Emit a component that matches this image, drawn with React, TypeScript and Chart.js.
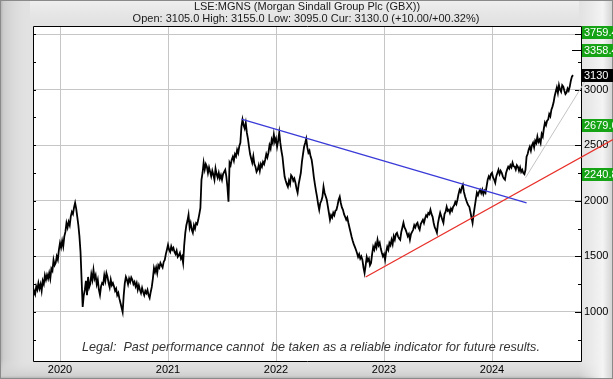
import React, { useEffect, useRef } from 'react';
import { Chart, registerables } from 'chart.js';

Chart.register(...registerables);

// ---------- text ----------
const titleText = 'LSE:MGNS (Morgan Sindall Group Plc (GBX))';
const subtitleText = 'Open: 3105.0 High: 3155.0 Low: 3095.0 Cur: 3130.0 (+10.00/+00.32%)';
const legalText = 'Legal:  Past performance cannot  be taken as a reliable indicator for future results.';

// ---------- axes ----------
const yearTicks = [2020, 2021, 2022, 2023, 2024];
const priceTicks = [1000, 1500, 2000, 2500, 3000, 3500];
const minorPriceTicks = [750, 1000, 1250, 1500, 1750, 2000, 2250, 2500, 2750, 3000, 3250, 3500];
const xMin = 2019.75;
const xMax = 2024.824;
const yMin = 559;
const yMax = 3572;

// ---------- price samples (one every 0.01 year) ----------
const sampleStep = 0.01;
const start2019 = 2019.75;
const prices2019 = [1135, 1190, 1160, 1230, 1200, 1260, 1210, 1250, 1190, 1280, 1250, 1330, 1290, 1333, 1300, 1350, 1300, 1390, 1370, 1468, 1420, 1440, 1500, 1470, 1560];
const prices2020 = [
  1620, 1580, 1640, 1590, 1680, 1720, 1800, 1760, 1810, 1780,
  1860, 1900, 1880, 1940, 1982, 1930, 1856, 1780, 1680, 1540,
  1290, 1045, 1150, 1200, 1280, 1150, 1315, 1220, 1250, 1340,
  1290, 1378, 1300, 1330, 1250, 1290, 1200, 1153, 1230, 1260,
  1250, 1330, 1280, 1350, 1315, 1260, 1220, 1290, 1240, 1260,
  1230, 1190, 1210, 1150, 1171, 1120, 1080, 1040, 1000, 1150,
  1260, 1315, 1290, 1250, 1300, 1270, 1310, 1290, 1250, 1270,
  1230, 1260, 1200, 1240, 1200, 1170, 1216, 1180, 1150, 1190,
  1170, 1198, 1150, 1126, 1180, 1225, 1300, 1396, 1360, 1400,
  1350, 1420, 1400, 1441, 1420, 1400, 1450, 1468, 1520, 1560,
];
const prices2021 = [
  1604, 1560, 1540, 1590, 1560, 1577, 1540, 1520, 1550, 1495,
  1510, 1532, 1480, 1500, 1441, 1600, 1712, 1780, 1820, 1874,
  1760, 1800, 1740, 1712, 1780, 1750, 1800, 1790, 1829, 1880,
  1937, 2189, 2250, 2342, 2280, 2330, 2306, 2250, 2300, 2261,
  2220, 2270, 2234, 2190, 2290, 2240, 2207, 2250, 2200, 2230,
  2189, 2240, 2260, 2279, 2220, 2126, 1991, 2342, 2320, 2370,
  2396, 2360, 2420, 2400, 2459, 2430, 2490, 2522, 2667, 2730,
  2680, 2650, 2700, 2613, 2560, 2486, 2420, 2380, 2342, 2400,
  2330, 2306, 2260, 2279, 2320, 2270, 2330, 2306, 2350, 2330,
  2369, 2420, 2390, 2432, 2500, 2470, 2550, 2520, 2595, 2530,
];
const prices2022 = [
  2560, 2486, 2540, 2613, 2520, 2450, 2396, 2300, 2216, 2180,
  2150, 2126, 2180, 2150, 2230, 2216, 2180, 2200, 2162, 2110,
  2072, 2150, 2200, 2252, 2350, 2420, 2486, 2520, 2558, 2480,
  2432, 2450, 2400, 2369, 2300, 2216, 2150, 2090, 2036, 1970,
  1919, 1980, 2000, 2036, 2126, 2070, 2040, 2009, 1950, 1890,
  1829, 1870, 1850, 1892, 1870, 1910, 1919, 1960, 2010, 2036,
  1980, 1940, 1919, 1880, 1856, 1830, 1850, 1802, 1760, 1720,
  1676, 1640, 1610, 1586, 1560, 1530, 1495, 1520, 1480, 1500,
  1468, 1400, 1351, 1420, 1495, 1460, 1480, 1420, 1441, 1520,
  1586, 1560, 1610, 1580, 1649, 1600, 1622, 1570, 1532, 1500,
];
const prices2023 = [
  1520, 1468, 1540, 1586, 1560, 1620, 1600, 1649, 1610, 1680,
  1650, 1700, 1712, 1680, 1660, 1649, 1720, 1760, 1802, 1760,
  1740, 1712, 1680, 1700, 1649, 1700, 1720, 1739, 1780, 1760,
  1790, 1802, 1760, 1739, 1790, 1810, 1829, 1800, 1840, 1870,
  1856, 1890, 1880, 1919, 1880, 1856, 1800, 1760, 1740, 1712,
  1800, 1850, 1892, 1860, 1830, 1802, 1880, 1900, 1946, 1910,
  1920, 1892, 1930, 1910, 1946, 1960, 1990, 1970, 2009, 2060,
  2099, 2080, 2120, 2144, 2080, 2040, 2009, 1980, 1960, 1946,
  1900, 1850, 1802, 1880, 1946, 2010, 2072, 2050, 2080, 2099,
  2070, 2100, 2060, 2090, 2072, 2130, 2189, 2220, 2200, 2240,
];
const prices2024 = [
  2252, 2210, 2190, 2162, 2220, 2250, 2279, 2240, 2270, 2252,
  2220, 2200, 2189, 2250, 2280, 2306, 2290, 2320, 2300, 2342,
  2310, 2306, 2280, 2320, 2306, 2270, 2300, 2260, 2279, 2250,
  2240, 2279, 2396, 2420, 2460, 2486, 2450, 2500, 2522, 2480,
  2540, 2520, 2577, 2530, 2550, 2520, 2600, 2577, 2650, 2703,
  2680, 2720, 2730, 2780, 2760, 2820, 2847, 2883, 2940, 2980,
  3018, 2970, 3040, 3000, 2980, 3040, 3027, 2990, 2960, 2973,
  3010, 2990, 3027, 3080, 3117, 3130,
];
const priceSegments: [number, number[]][] = [
  [start2019, prices2019],
  [2020, prices2020],
  [2021, prices2021],
  [2022, prices2022],
  [2023, prices2023],
  [2024, prices2024],
];

// ---------- trend lines [year, price] ----------
const blueTrend = [[2021.68, 2735], [2024.32, 1982]];
const redTrend = [[2022.83, 1315], [2025.12, 2550]];
const greyTrend = [[2024.31, 2207], [2024.86, 3072]];

// ---------- right-hand markers ----------
const targetLevels = [3759.4, 3358.4, 2679.6, 2240.8];
const targetTickLevel = 3358.4;
const currentPrice = 3130;

const FONT = "'Liberation Sans', Arial, sans-serif";

function buildPriceData() {
  const pts: { x: number; y: number }[] = [];
  priceSegments.forEach(([start, vals]) => {
    vals.forEach((v, i) => pts.push({ x: start + i * sampleStep, y: v }));
  });
  return pts;
}
const toPts = (arr: number[][]) => arr.map(([x, y]) => ({ x, y }));

const framePlugin = {
  id: 'frame',
  beforeDraw(chart: any) {
    const { ctx, width, height, chartArea } = chart;
    ctx.save();
    ctx.fillStyle = '#e2e2e2';
    ctx.fillRect(0, 0, width, height);
    let g = ctx.createLinearGradient(0, 0, 30, 0);
    g.addColorStop(0, '#b0b0b0');
    g.addColorStop(0.12, '#cdcdcd');
    g.addColorStop(1, 'rgba(226,226,226,0)');
    ctx.fillStyle = g;
    ctx.fillRect(0, 0, 30, height);
    g = ctx.createLinearGradient(0, height, 0, height - 20);
    g.addColorStop(0, '#a8a8a8');
    g.addColorStop(0.15, '#cfcfcf');
    g.addColorStop(1, 'rgba(226,226,226,0)');
    ctx.fillStyle = g;
    ctx.fillRect(0, height - 20, width, 20);
    g = ctx.createLinearGradient(width, 0, width - 34, 0);
    g.addColorStop(0, '#d0d0d0');
    g.addColorStop(0.3, '#f4f4f4');
    g.addColorStop(1, 'rgba(240,240,240,0)');
    ctx.fillStyle = g;
    ctx.fillRect(width - 34, 0, 34, height);
    g = ctx.createLinearGradient(0, 0, 0, 24);
    g.addColorStop(0, '#f0f0f0');
    g.addColorStop(1, 'rgba(232,232,232,0)');
    ctx.fillStyle = g;
    ctx.fillRect(30, 0, width - 64, 24);
    ctx.strokeStyle = '#8a8a8a';
    ctx.lineWidth = 1;
    ctx.strokeRect(0.5, 0.5, width - 1, height - 1);
    // plot area
    ctx.fillStyle = '#ffffff';
    ctx.fillRect(chartArea.left, chartArea.top, chartArea.right - chartArea.left, chartArea.bottom - chartArea.top);
    // titles
    ctx.fillStyle = '#1a1a1a';
    ctx.font = `11px ${FONT}`;
    ctx.textAlign = 'center';
    ctx.textBaseline = 'middle';
    ctx.fillText(titleText, 307, 7);
    ctx.fillText(subtitleText, 306, 19);
    ctx.restore();
  },
  beforeDatasetsDraw(chart: any) {
    const { ctx, chartArea, scales } = chart;
    const { left, right, top, bottom } = chartArea;
    ctx.save();
    ctx.fillStyle = '#333';
    ctx.font = `italic 12.6px ${FONT}`;
    ctx.textAlign = 'center';
    ctx.textBaseline = 'middle';
    ctx.fillText(legalText, 311, bottom - 14);
    ctx.strokeStyle = '#000';
    ctx.lineWidth = 1;
    ctx.beginPath();
    minorPriceTicks.forEach((v) => {
      const y = Math.round(scales.y.getPixelForValue(v)) + 0.5;
      if (y < top || y > bottom) return;
      const major = priceTicks.includes(v);
      ctx.moveTo(left, y);
      ctx.lineTo(left + 3, y);
      ctx.moveTo(right - (major ? 6 : 3), y);
      ctx.lineTo(right, y);
    });
    // border
    ctx.moveTo(left + 0.5, top + 0.5);
    ctx.lineTo(right + 0.5, top + 0.5);
    ctx.moveTo(left + 0.5, top + 0.5);
    ctx.lineTo(left + 0.5, bottom + 0.5);
    ctx.moveTo(left + 0.5, bottom + 0.5);
    ctx.lineTo(right + 0.5, bottom + 0.5);
    ctx.moveTo(right + 0.5, top + 0.5);
    ctx.lineTo(right + 0.5, bottom + 0.5);
    // target tick
    const ty = Math.round(scales.y.getPixelForValue(targetTickLevel)) + 0.5;
    ctx.moveTo(right - 9, ty);
    ctx.lineTo(right, ty);
    ctx.stroke();
    ctx.restore();
  },
  afterDraw(chart: any) {
    const { ctx, chartArea, scales, width } = chart;
    ctx.save();
    ctx.font = `11px ${FONT}`;
    ctx.textAlign = 'left';
    ctx.textBaseline = 'middle';
    const drawBox = (v: number, bg: string, text: string) => {
      const y = Math.max(scales.y.getPixelForValue(v), chartArea.top + 5.5);
      const yy = Math.round(y);
      ctx.fillStyle = bg;
      ctx.fillRect(chartArea.right + 1, yy - 6, width - chartArea.right - 1, 13);
      ctx.fillStyle = '#ffffff';
      ctx.fillText(text, chartArea.right + 3, yy + 0.5);
    };
    targetLevels.forEach((v) => drawBox(v, '#16a316', v.toFixed(1)));
    drawBox(currentPrice, '#000000', String(currentPrice));
    ctx.restore();
  },
};

export default function App() {
  const canvasRef = useRef<HTMLCanvasElement | null>(null);
  useEffect(() => {
    document.body.style.margin = '0';
    const canvas = canvasRef.current;
    if (!canvas) return;
    const chart = new Chart(canvas, {
      type: 'line',
      data: {
        datasets: [
          { data: toPts(blueTrend), borderColor: '#3a3ad8', borderWidth: 1.3, pointRadius: 0 },
          { data: toPts(redTrend), borderColor: '#e8302a', borderWidth: 1.3, pointRadius: 0, clip: false },
          { data: toPts(greyTrend), borderColor: '#c4c4c4', borderWidth: 1, pointRadius: 0, clip: false },
          { data: buildPriceData(), borderColor: '#000000', borderWidth: 1.8, pointRadius: 0 },
        ] as any,
      },
      plugins: [framePlugin],
      options: {
        animation: false,
        responsive: false,
        devicePixelRatio: 1,
        layout: { padding: { top: 26, left: 33, right: 0, bottom: 0 } },
        plugins: { legend: { display: false }, tooltip: { enabled: false }, title: { display: false } },
        elements: { line: { tension: 0 } },
        scales: {
          x: {
            type: 'linear',
            min: xMin,
            max: xMax,
            afterBuildTicks: (s: any) => { s.ticks = yearTicks.map((v) => ({ value: v })); },
            afterFit: (s: any) => { s.height = 18; },
            grid: { color: '#c6c6c6', lineWidth: 1, drawTicks: false },
            border: { display: false },
            ticks: {
              callback: (v: any) => String(v),
              font: { family: FONT, size: 11 },
              color: '#000',
              padding: 2,
              maxRotation: 0,
              autoSkip: false,
            },
          },
          y: {
            type: 'linear',
            position: 'right',
            min: yMin,
            max: yMax,
            afterBuildTicks: (s: any) => { s.ticks = priceTicks.map((v) => ({ value: v })); },
            afterFit: (s: any) => { s.width = 32; },
            grid: { color: '#c6c6c6', lineWidth: 1, drawTicks: false },
            border: { display: false },
            ticks: {
              callback: (v: any) => String(v),
              font: { family: FONT, size: 11 },
              color: '#000',
              padding: 3,
              autoSkip: false,
            },
          },
        },
      } as any,
    });
    return () => chart.destroy();
  }, []);
  return (
    <div style={{ width: 613, height: 379 }}>
      <canvas ref={canvasRef} width={613} height={379} style={{ display: 'block' }} />
    </div>
  );
}
